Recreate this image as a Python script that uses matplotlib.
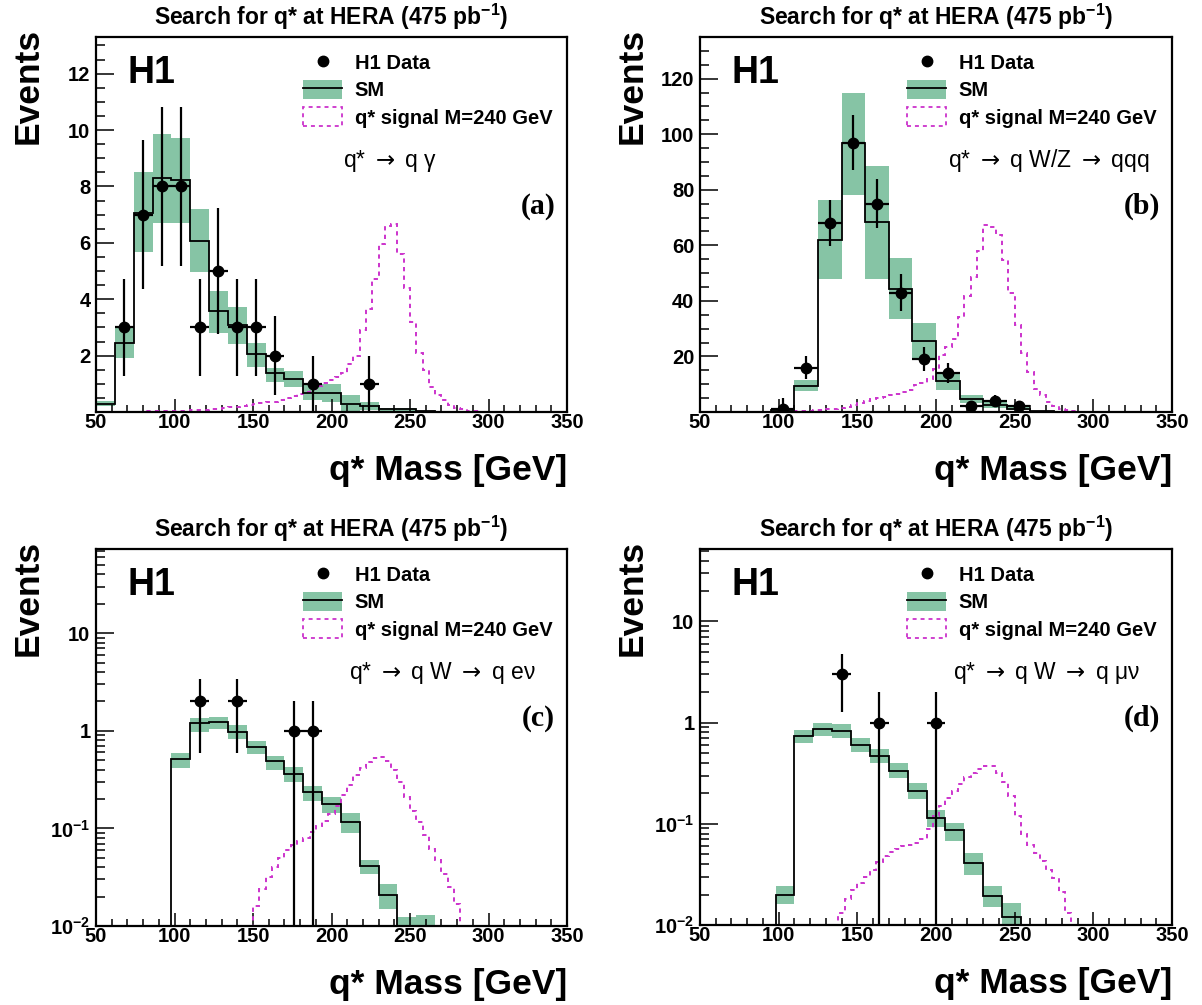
import numpy as np
import matplotlib
matplotlib.use('Agg')
import matplotlib.pyplot as plt
from matplotlib.lines import Line2D
from matplotlib.patches import Patch
from matplotlib.ticker import MultipleLocator, FixedLocator, LogLocator, NullFormatter, FuncFormatter

plt.rcParams['font.family'] = ['Liberation Sans', 'DejaVu Sans']
plt.rcParams['font.weight'] = 'bold'
plt.rcParams['mathtext.fontset'] = 'custom'
plt.rcParams['mathtext.rm'] = 'Liberation Sans'
plt.rcParams['mathtext.bf'] = 'Liberation Sans:bold'
plt.rcParams['mathtext.it'] = 'Liberation Sans:italic'
plt.rcParams['mathtext.sf'] = 'DejaVu Sans:normal'

# Bins (GeV)
bordas12 = np.arange(50, 351, 12)
bordas15 = np.arange(50, 351, 15)
bordas_sinal = np.arange(50, 351, 4)

# (a) q* -> q gamma
sm_a = [0.27, 2.45, 7.07, 8.29, 8.23, 6.07, 3.57, 3.07, 2.07, 1.37, 1.16, 0.69, 0.69,
        0.30, 0.22, 0.10, 0.10, 0.03, 0, 0, 0, 0, 0, 0, 0]
sm_a_lo = [0.2, 1.9, 5.66, 6.7, 6.7, 4.95, 2.8, 2.42, 1.6, 1.07, 0.89, 0.42, 0.36,
           0.02, 0.06, 0.02, 0.02, 0.0, 0, 0, 0, 0, 0, 0, 0]
sm_a_hi = [0.4, 3.0, 8.5, 9.86, 9.73, 7.2, 4.3, 3.71, 2.45, 1.57, 1.46, 1.01, 0.98,
           0.6, 0.34, 0.15, 0.15, 0.05, 0, 0, 0, 0, 0, 0, 0]
sinal_a = [0, 0, 0, 0, 0.005, 0.01, 0.012, 0.015, 0.018, 0.02, 0.025, 0.03,
           0.035, 0.04, 0.05, 0.06, 0.07, 0.08, 0.10, 0.12, 0.14, 0.16, 0.19, 0.22,
           0.25, 0.28, 0.31, 0.34, 0.37, 0.42, 0.48, 0.55, 0.63, 0.72, 0.82, 0.92,
           1.02, 1.12, 1.24, 1.4, 1.72,
           2.0, 2.9, 3.67, 4.73, 5.95, 6.6, 6.68, 5.62, 4.4, 3.2, 2.11, 1.48, 0.89,
           0.6, 0.42, 0.24, 0.15, 0.1, 0.05, 0.02,
           0, 0, 0, 0, 0, 0, 0, 0, 0, 0, 0, 0, 0, 0]
dados_a_x = [68, 80, 92, 104, 116, 128, 140, 152, 164, 188, 224]
dados_a_n = [3, 7, 8, 8, 3, 5, 3, 3, 2, 1, 1]
dados_a_err = [1.73, 2.65, 2.83, 2.83, 1.73, 2.24, 1.73, 1.73, 1.41, 1.0, 1.0]

# (b) q* -> q W/Z -> qqq
sm_b = [0, 0, 0.1, 0.6, 9.4, 62, 96.8, 68.3, 44.3, 25.5, 11.2, 4.6, 2.5, 1.2, 0.3,
        0, 0, 0, 0, 0]
sm_b_lo = [0, 0, 0, 0.3, 7.4, 47.7, 78, 48, 33.3, 18.9, 8.0, 3.3, 1.5, 0.6, 0.1,
           0, 0, 0, 0, 0]
sm_b_hi = [0, 0, 0.2, 0.9, 11.4, 76.4, 114.7, 88.4, 55.3, 32, 14.4, 6.2, 3.6, 1.8, 0.5,
           0, 0, 0, 0, 0]
sinal_b = [0, 0, 0, 0, 0, 0, 0, 0, 0, 0, 0, 0, 0, 0, 0,
           0.2, 0.3, 0.5, 0.6, 0.8, 0.9, 1.0, 1.4, 1.9, 2.4, 3.4, 3.9, 4.5, 5.1, 5.5,
           6.0, 6.5, 7.3, 8.0, 9.6, 10.5, 12.0, 15.6, 20.4, 23.5, 26.4, 34.2, 41.9,
           48.5, 58, 67.3, 66.5, 63.7, 54.7, 43, 31.4, 21.3, 14.3, 8.2, 6.0, 3.7,
           2.2, 1.0, 0.8, 0.3, 0.1,
           0, 0, 0, 0, 0, 0, 0, 0, 0, 0, 0, 0, 0, 0]
dados_b_x = [102.5, 117.5, 132.5, 147.5, 162.5, 177.5, 192.5, 207.5, 222.5, 237.5, 252.5]
dados_b_n = [1, 16, 68, 97, 75, 43, 19, 14, 2, 4, 2]
dados_b_err_lo = [1, 4, 8.2, 9.8, 8.7, 6.6, 4.4, 3.7, 1.4, 2, 1.4]
dados_b_err_hi = [4, 4, 8.2, 9.8, 8.7, 6.6, 4.4, 3.7, 1.4, 2, 1.4]

# (c) q* -> q W -> q e nu
sm_c = [0, 0, 0, 0, 0.51, 1.19, 1.22, 0.98, 0.69, 0.49, 0.36, 0.235, 0.177, 0.115,
        0.041, 0.021, 0.0095, 0.0098, 0, 0, 0, 0, 0, 0, 0]
sm_c_lo = [0, 0, 0, 0, 0.42, 0.98, 1.05, 0.83, 0.58, 0.40, 0.30, 0.19, 0.143, 0.089,
           0.034, 0.015, 0.007, 0.007, 0, 0, 0, 0, 0, 0, 0]
sm_c_hi = [0, 0, 0, 0, 0.59, 1.36, 1.40, 1.15, 0.79, 0.55, 0.43, 0.27, 0.21, 0.143,
           0.048, 0.027, 0.0125, 0.013, 0, 0, 0, 0, 0, 0, 0]
sinal_c = [0] * 24 + [
           0, 0.016, 0.024, 0.032, 0.040, 0.050, 0.060, 0.067, 0.075, 0.080, 0.092,
           0.105, 0.12, 0.14, 0.17, 0.22, 0.28, 0.35, 0.42, 0.48, 0.53, 0.54, 0.49,
           0.40, 0.30, 0.21, 0.15, 0.115, 0.085, 0.062, 0.047, 0.034, 0.025, 0.017] + [0] * 17
dados_c_x = [116, 140, 176, 188]
dados_c_n = [2, 2, 1, 1]
dados_c_err = [1.41, 1.41, 1.0, 1.0]

# (d) q* -> q W -> q mu nu
sm_d = [0, 0, 0, 0, 0.020, 0.73, 0.86, 0.83, 0.60, 0.47, 0.336, 0.212, 0.114, 0.087,
        0.041, 0.0195, 0.012, 0, 0, 0, 0, 0, 0, 0, 0]
sm_d_lo = [0, 0, 0, 0, 0.016, 0.63, 0.74, 0.71, 0.51, 0.40, 0.285, 0.175, 0.094, 0.068,
           0.031, 0.015, 0.010, 0, 0, 0, 0, 0, 0, 0, 0]
sm_d_hi = [0, 0, 0, 0, 0.0245, 0.85, 1.0, 0.96, 0.71, 0.55, 0.40, 0.252, 0.138, 0.103,
           0.052, 0.0245, 0.0165, 0, 0, 0, 0, 0, 0, 0, 0]
sinal_d = [0] * 22 + [
           0.013, 0.018, 0.022, 0.026, 0.030, 0.035, 0.042, 0.048, 0.053, 0.057, 0.060,
           0.062, 0.065, 0.070, 0.088, 0.12, 0.15, 0.18, 0.21, 0.25, 0.29, 0.32, 0.35,
           0.37, 0.37, 0.32, 0.26, 0.19, 0.12, 0.08, 0.062, 0.052, 0.043, 0.035, 0.029,
           0.021, 0.013] + [0] * 16
dados_d_x = [140, 164, 200]
dados_d_n = [3, 1, 1]
dados_d_err = [1.73, 1.0, 1.0]

verde = '#86c4a5'
magenta = '#cc33cc'
tracejado = (0, (2.2, 2.2))
seta = r' $\mathsf{\rightarrow}$ '

fig = plt.figure(figsize=(12.02, 10.05), dpi=100)
W, H = 1202, 1005

# posicoes dos paineis em pixels: esquerda, topo, largura, altura
paineis = [
    dict(pos=(96, 37, 471, 375), bordas=bordas12, sm=sm_a, lo=sm_a_lo, hi=sm_a_hi, sinal=sinal_a,
         x=dados_a_x, n=dados_a_n, elo=dados_a_err, ehi=dados_a_err, log=False, ylim=(0, 13.3),
         ymaj=[2, 4, 6, 8, 10, 12], ymin=0.5, texto='q*' + seta + 'q γ', tx=0.524, letra='(a)'),
    dict(pos=(700, 37, 472, 375), bordas=bordas15, sm=sm_b, lo=sm_b_lo, hi=sm_b_hi, sinal=sinal_b,
         x=dados_b_x, n=dados_b_n, elo=dados_b_err_lo, ehi=dados_b_err_hi, log=False, ylim=(0, 135),
         ymaj=[20, 40, 60, 80, 100, 120], ymin=5, texto='q*' + seta + 'q W/Z' + seta + 'qqq',
         tx=0.525, letra='(b)'),
    dict(pos=(96, 549, 471, 377), bordas=bordas12, sm=sm_c, lo=sm_c_lo, hi=sm_c_hi, sinal=sinal_c,
         x=dados_c_x, n=dados_c_n, elo=dados_c_err, ehi=dados_c_err, log=True, ylim=(0.01, 73),
         texto='q*' + seta + 'q W' + seta + 'q eν', tx=0.537, letra='(c)'),
    dict(pos=(700, 549, 472, 376), bordas=bordas12, sm=sm_d, lo=sm_d_lo, hi=sm_d_hi, sinal=sinal_d,
         x=dados_d_x, n=dados_d_n, elo=dados_d_err, ehi=dados_d_err, log=True, ylim=(0.01, 52),
         texto='q*' + seta + 'q W' + seta + 'q μν', tx=0.536, letra='(d)'),
]


def rotulo_log(v, pos):
    if v >= 1:
        return '%g' % v
    return r'$\mathbf{10^{%d}}$' % int(round(np.log10(v)))


for p in paineis:
    esq, topo, larg, alt = p['pos']
    ax = fig.add_axes([esq / W, 1 - (topo + alt) / H, larg / W, alt / H])
    bordas = p['bordas']
    lo = np.array(p['lo'])
    hi = np.array(p['hi'])
    m = hi > 0

    # banda de incerteza do SM
    ax.bar(bordas[:-1][m], (hi - lo)[m], width=np.diff(bordas)[m], bottom=lo[m],
           align='edge', color=verde, linewidth=0, zorder=1)
    ax.stairs(p['sm'], bordas, color='black', linewidth=1.3, zorder=3)
    ax.stairs(p['sinal'], bordas_sinal, color=magenta, linewidth=1.4, linestyle=tracejado, zorder=2)

    meia = np.diff(bordas)[0] / 2
    ax.errorbar(p['x'], p['n'], xerr=meia, yerr=[p['elo'], p['ehi']], fmt='o', color='black',
                markersize=7.5, elinewidth=1.6, capsize=0, zorder=5)

    if p['log']:
        ax.set_yscale('log')
        ax.yaxis.set_major_locator(FixedLocator([0.01, 0.1, 1, 10]))
        ax.yaxis.set_minor_locator(LogLocator(base=10, subs=np.arange(2, 10)))
        ax.yaxis.set_major_formatter(FuncFormatter(rotulo_log))
        ax.yaxis.set_minor_formatter(NullFormatter())
    else:
        ax.yaxis.set_major_locator(FixedLocator(p['ymaj']))
        ax.yaxis.set_minor_locator(MultipleLocator(p['ymin']))
    ax.set_ylim(*p['ylim'])
    ax.set_xlim(50, 350)
    ax.xaxis.set_major_locator(MultipleLocator(50))
    ax.xaxis.set_minor_locator(MultipleLocator(10))

    ax.tick_params(which='both', direction='in', top=False, right=False, width=1.1,
                   labelsize=14.5)
    ax.tick_params(axis='y', which='major', length=13, pad=4)
    ax.tick_params(axis='y', which='minor', length=6.5)
    ax.tick_params(axis='x', which='major', length=9.5, pad=1)
    ax.tick_params(axis='x', which='minor', length=4.7)
    for s in ax.spines.values():
        s.set_linewidth(1.6)

    # textos
    ax.text(0.5, 1 + 12 / alt, r'Search for q* at HERA (475 pb$^{\mathbf{-1}}$)',
            transform=ax.transAxes, ha='center', va='baseline', fontsize=16.5)
    ax.text(1.0, -68 / alt, 'q* Mass [GeV]', transform=ax.transAxes, ha='right',
            va='baseline', fontsize=25.5)
    ax.text(-68 / larg, 1 + 9 / alt, 'Events', transform=ax.transAxes, rotation=90,
            ha='center', va='top', fontsize=25.5)
    ax.text(0.066, 1 - 46 / alt, 'H1', transform=ax.transAxes, ha='left', va='baseline',
            fontsize=27)
    ax.text(p['tx'], 1 - 130 / alt, p['texto'], transform=ax.transAxes, ha='left',
            va='baseline', fontsize=16.5, fontweight='normal')
    ax.text(0.975, 1 - 177 / alt, p['letra'], transform=ax.transAxes, ha='right',
            va='baseline', fontsize=21.5, family='Liberation Serif')

    # legenda
    alcas = [Line2D([], [], marker='o', linestyle='none', color='black', markersize=7.5),
             (Patch(facecolor=verde, edgecolor='none'), Line2D([], [], color='black', linewidth=1.3)),
             Patch(facecolor='none', edgecolor=magenta, linestyle=tracejado, linewidth=1.3)]
    ax.legend(alcas, ['H1 Data', 'SM', 'q* signal M=240 GeV'], loc='upper left',
              bbox_to_anchor=(207 / larg, 1 - 15.5 / alt), frameon=False, fontsize=14.5,
              handlelength=1.96, handleheight=1.08, handletextpad=0.6, labelspacing=0.35,
              borderpad=0, borderaxespad=0)

fig.savefig('out.png', dpi=100)
